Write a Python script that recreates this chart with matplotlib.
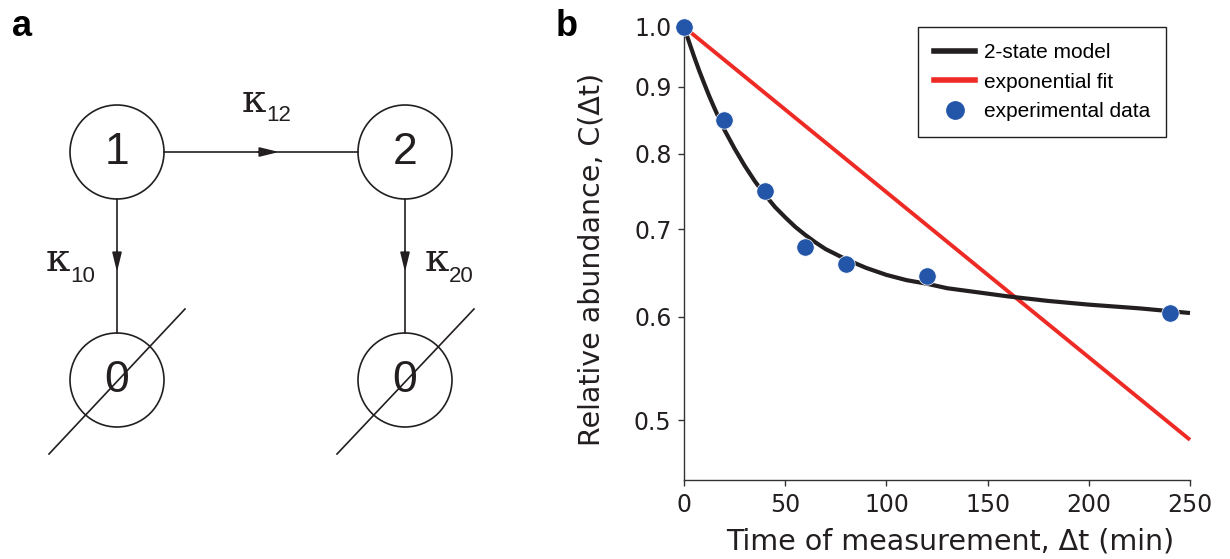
import matplotlib
matplotlib.use("Agg")
import matplotlib.pyplot as plt
from matplotlib.patches import Circle
from matplotlib.lines import Line2D

# ---------------- data ----------------
data_time = [0, 20, 40, 60, 80, 120, 240]
data_abundance = [1.0, 0.849, 0.749, 0.678, 0.658, 0.645, 0.604]

model_time = [0, 2.5, 5, 7.5, 10, 12.5, 15, 17.5, 20, 25, 30, 35, 40, 45, 50,
              55, 60, 65, 70, 75, 80, 90, 100, 110, 120, 130, 140, 160, 180,
              200, 225, 250]
model_abundance = [1.0, 0.974, 0.949, 0.926, 0.905, 0.885, 0.867, 0.850, 0.834,
                   0.807, 0.783, 0.762, 0.744, 0.728, 0.715, 0.703, 0.693, 0.684,
                   0.676, 0.670, 0.664, 0.654, 0.646, 0.640, 0.636, 0.631, 0.628,
                   0.622, 0.617, 0.613, 0.609, 0.604]

fit_time = [0, 250]
fit_abundance = [1.0, 0.483]

x_ticks = [0, 50, 100, 150, 200, 250]
y_ticks = [0.5, 0.6, 0.7, 0.8, 0.9, 1.0]
y_tick_labels = ["0.5", "0.6", "0.7", "0.8", "0.9", "1.0"]

legend_labels = ["2-state model", "exponential fit", "experimental data"]

BLUE = "#2356a8"
RED = "#ee2a24"
BLACK = "#231f20"

W, H = 1230, 559
fig = plt.figure(figsize=(W / 100, H / 100), dpi=100)

# ---------------- panel a (diagram, pixel coordinates) ----------------
ax0 = fig.add_axes([0, 0, 1, 1])
ax0.set_xlim(0, W)
ax0.set_ylim(H, 0)
ax0.axis("off")

sans = "Liberation Sans"
serif = "DejaVu Serif"
lw_d = 1.2
R = 47
nodes = {"1": (117, 152), "2": (405, 152), "0a": (117, 380), "0b": (405, 380)}
for key, (cx, cy) in nodes.items():
    ax0.add_patch(Circle((cx, cy), R, fill=False, ec=BLACK, lw=lw_d))
    ax0.text(cx, cy + 1, key[0], ha="center", va="center", fontsize=32,
             family=sans, color=BLACK)

# connections
ax0.plot([117 + R, 405 - R], [152, 152], color=BLACK, lw=lw_d)
ax0.plot([117, 117], [152 + R, 380 - R], color=BLACK, lw=lw_d)
ax0.plot([405, 405], [152 + R, 380 - R], color=BLACK, lw=lw_d)
arrow_kw = dict(arrowstyle="-|>,head_length=0.9,head_width=0.22",
                color=BLACK, lw=lw_d, mutation_scale=13, shrinkA=0, shrinkB=0)
ax0.annotate("", xy=(279, 152), xytext=(258, 152), arrowprops=arrow_kw)
ax0.annotate("", xy=(117, 272), xytext=(117, 251), arrowprops=arrow_kw)
ax0.annotate("", xy=(405, 272), xytext=(405, 251), arrowprops=arrow_kw)
# slashes through sink nodes
ax0.plot([49, 185], [454, 309], color=BLACK, lw=lw_d)
ax0.plot([337, 474], [454, 309], color=BLACK, lw=lw_d)

# rate labels
for (kx, ky, sub, sx, sy) in [(242, 112, "12", 266, 121),
                              (46, 271, "10", 70, 282),
                              (425, 271, "20", 449, 282)]:
    ax0.text(kx, ky, "κ", fontsize=28, family=serif,
             ha="left", va="baseline", color=BLACK)
    ax0.text(sx, sy, sub, fontsize=16, family=sans, ha="left", va="baseline",
             color=BLACK)

ax0.text(12, 36, "a", fontsize=26, fontweight="bold", family=sans,
         ha="left", va="baseline", color="black")
ax0.text(556, 36, "b", fontsize=26, fontweight="bold", family=sans,
         ha="left", va="baseline", color="black")

# ---------------- panel b ----------------
left, right, top, bottom = 684, 1190, 27, 480
ax = fig.add_axes([left / W, 1 - bottom / H, (right - left) / W, (bottom - top) / H])
ax.set_yscale("log")
ax.set_xlim(0, 250)
ax.set_ylim(0.45, 1.0)

ax.plot(fit_time, fit_abundance, color=RED, lw=2.8, solid_capstyle="butt",
        clip_on=False, zorder=2)
ax.plot(model_time, model_abundance, color=BLACK, lw=3.0, solid_capstyle="butt",
        solid_joinstyle="round", clip_on=False, zorder=3)
ax.plot(data_time, data_abundance, "o", color=BLUE, ms=12.5, mec="white",
        mew=0.5, clip_on=False, zorder=4)

ax.set_xticks(x_ticks)
ax.set_yticks(y_ticks)
ax.set_yticklabels(y_tick_labels)
ax.yaxis.set_minor_locator(matplotlib.ticker.NullLocator())
ax.tick_params(axis="both", which="major", direction="out", length=4,
               width=1.0, color="#333333", labelsize=17, pad=5)
for lab in ax.get_xticklabels() + ax.get_yticklabels():
    lab.set_family("DejaVu Sans")
    lab.set_color(BLACK)

for s in ["top", "right"]:
    ax.spines[s].set_visible(False)
for s in ["left", "bottom"]:
    ax.spines[s].set_color("#333333")
    ax.spines[s].set_linewidth(1.0)

ax.set_xlabel("Time of measurement, Δt (min)", fontsize=20.5, family="DejaVu Sans",
              color=BLACK)
ax.set_ylabel("Relative abundance, C(Δt)", fontsize=20.5, family="DejaVu Sans",
              color=BLACK)
ax.xaxis.set_label_coords((950 - left) / (right - left), -0.105)
ax.yaxis.set_label_coords(-0.155, 0.486)

handles = [Line2D([], [], color=BLACK, lw=4),
           Line2D([], [], color=RED, lw=4),
           Line2D([], [], marker="o", ls="none", color=BLUE, ms=12.5)]
leg = ax.legend(handles, legend_labels, loc="upper left",
                bbox_to_anchor=(918 / W, 1 - 27 / H), bbox_transform=fig.transFigure,
                borderaxespad=0, fancybox=False, framealpha=1, edgecolor=BLACK,
                prop={"family": sans, "size": 15}, handlelength=1.95,
                handletextpad=0.42, labelspacing=0.5, borderpad=0.78)
leg.get_frame().set_linewidth(1.0)

fig.savefig("out.png", dpi=100)
